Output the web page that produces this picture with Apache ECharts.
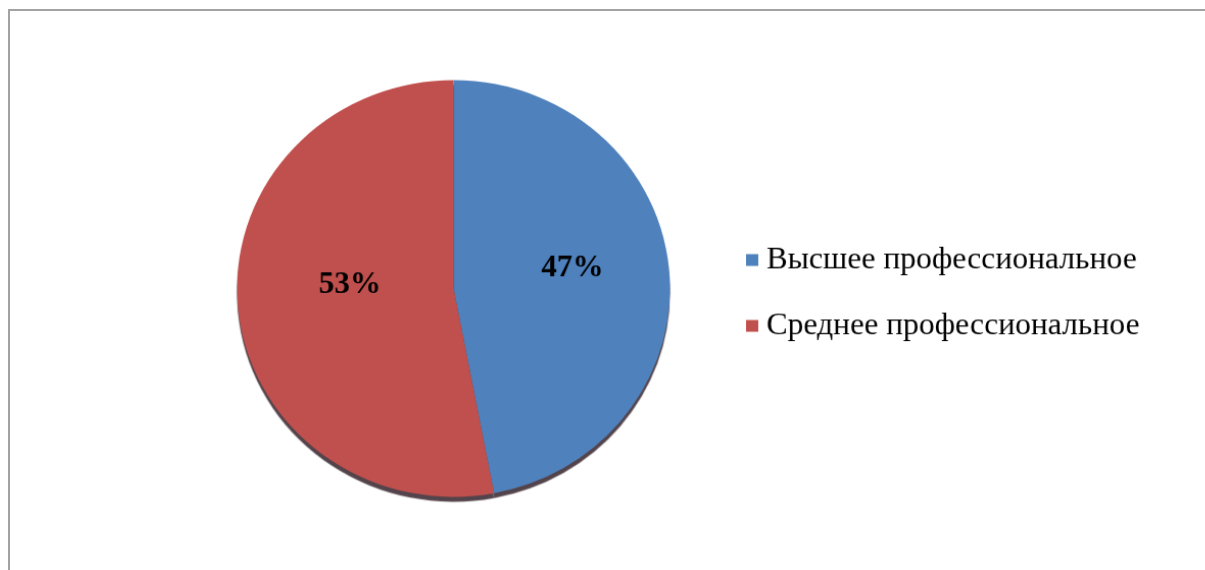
<!DOCTYPE html>
<html>
<head>
<meta charset="utf-8">
<script src="https://cdn.jsdelivr.net/npm/echarts@6/dist/echarts.min.js"></script>
<style>
html,body{margin:0;padding:0;background:#fff;width:1205px;height:570px;overflow:hidden;}
#frame{position:absolute;left:8px;top:9px;width:1300px;height:700px;border-left:2px solid #a3a3a3;border-top:2px solid #a3a3a3;}
#chart{position:absolute;left:0;top:0;width:1205px;height:570px;transform-origin:453.5px 288.5px;transform:scale(1.021,0.983);}
</style>
</head>
<body>
<div id="frame"></div>
<div id="chart"></div>
<script>
const categories = ['Высшее профессиональное', 'Среднее профессиональное'];
const values = [47, 53];
const colors = ['#4F81BD', '#C0504D'];
const labelOffsets = [[8, -10], [7, -14]];

const chart = echarts.init(document.getElementById('chart'), null, {renderer: 'canvas'});
const data = categories.map((c, i) => ({
  name: c,
  value: values[i],
  itemStyle: {color: colors[i]},
  label: {offset: labelOffsets[i]}
}));
chart.setOption({
  animation: false,
  backgroundColor: 'transparent',
  legend: {
    orient: 'vertical',
    left: 735,
    top: 239,
    itemWidth: 12,
    itemHeight: 12,
    itemGap: 36,
    icon: 'rect',
    textStyle: {fontFamily: 'Liberation Serif', fontSize: 31, lineHeight: 31, color: '#000', padding: [0, 0, 0, 3]},
    data: categories
  },
  series: [{
    type: 'pie',
    center: [453.5, 288.5],
    radius: [0, 212],
    startAngle: 90,
    clockwise: true,
    silent: true,
    labelLine: {show: false},
    label: {
      show: true,
      position: 'inside',
      formatter: p => p.value + '%',
      fontFamily: 'Liberation Serif',
      fontWeight: 'bold',
      fontSize: 30.5,
      color: '#000'
    },
    itemStyle: {
      borderWidth: 0,
      shadowColor: 'rgba(40,20,30,0.8)',
      shadowBlur: 1,
      shadowOffsetY: 5
    },
    data: data
  }]
});
</script>
</body>
</html>
